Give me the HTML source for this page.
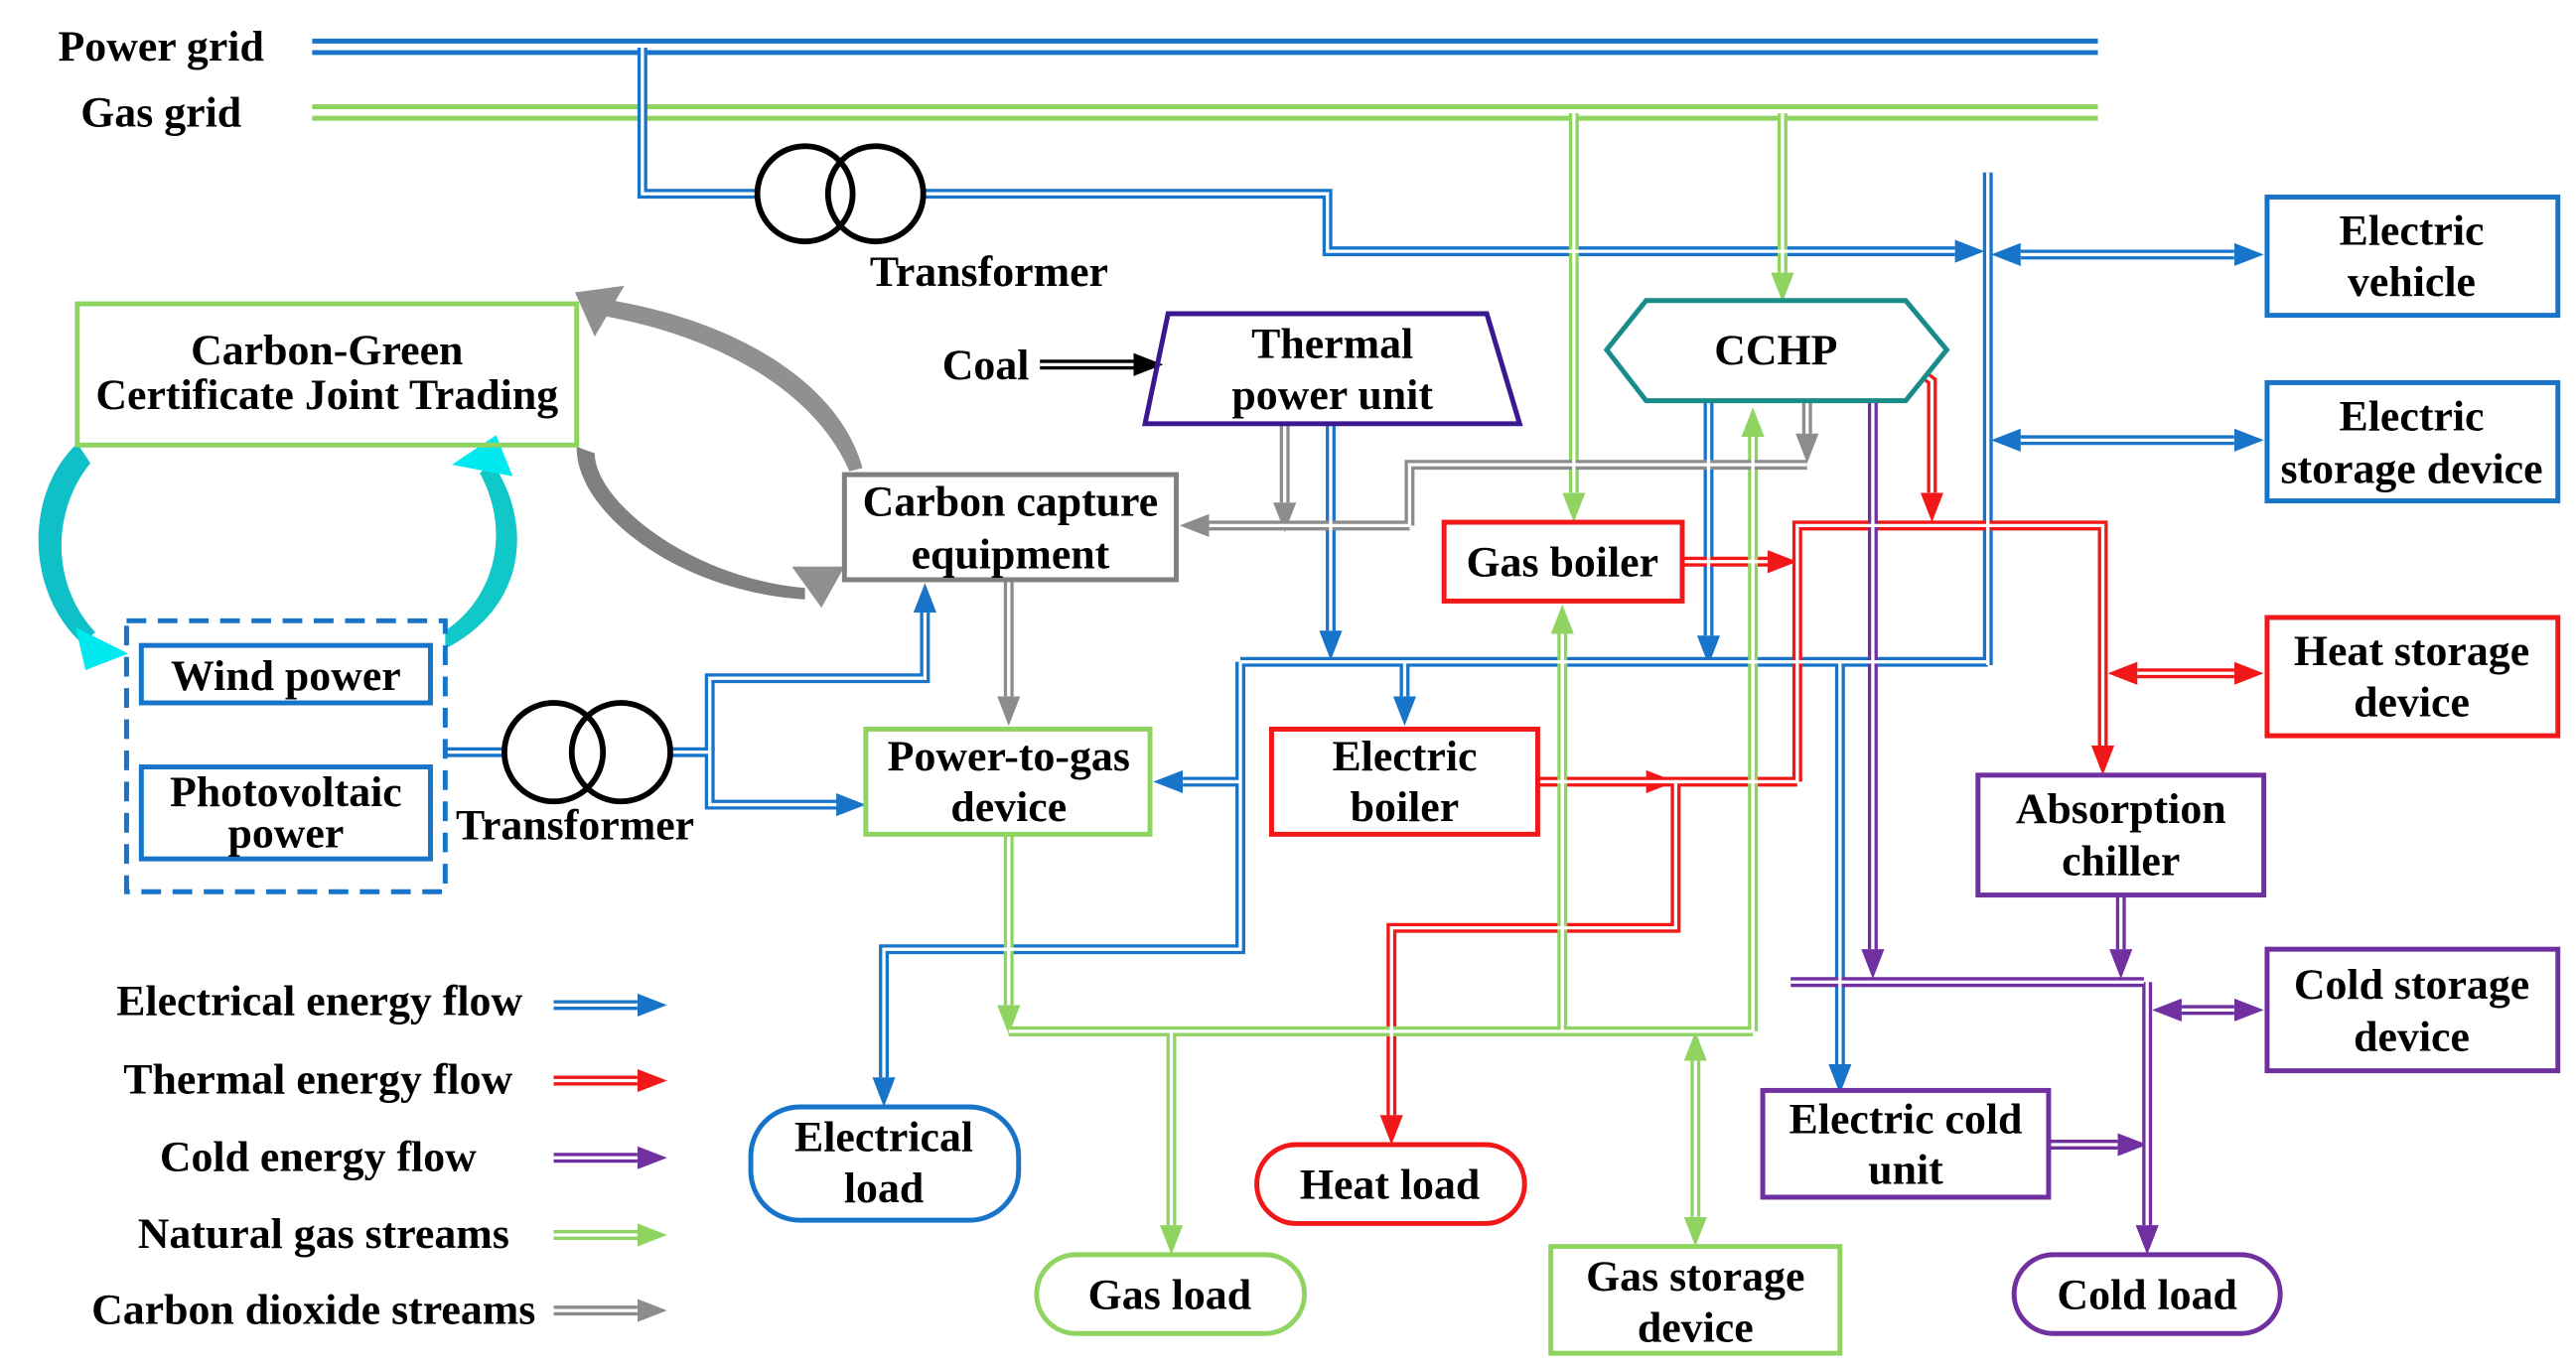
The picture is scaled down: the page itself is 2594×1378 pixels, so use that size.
<!DOCTYPE html>
<html><head><meta charset="utf-8"><style>
html,body{margin:0;padding:0;background:#fff}
svg{display:block}
text{font-family:"Liberation Serif",serif;font-weight:bold;font-size:26.5px;fill:#000}
.b{fill:none;stroke:#1874c8;stroke-width:6}
.r{fill:none;stroke:#f01818;stroke-width:6}
.p{fill:none;stroke:#7030a0;stroke-width:6}
.g{fill:none;stroke:#8fd460;stroke-width:6}
.y{fill:none;stroke:#8c8c8c;stroke-width:6}
.k{fill:none;stroke:#000;stroke-width:6}
.w{fill:none;stroke:#fff;stroke-width:2;marker-start:none!important;marker-end:none!important}
</style></head><body>
<svg width="2594" height="1378" viewBox="0 0 1568 833" xmlns="http://www.w3.org/2000/svg">
<defs>
<marker id="mb" markerUnits="userSpaceOnUse" markerWidth="18" markerHeight="14" refX="0" refY="7" orient="auto-start-reverse"><path d="M0,0 L18,7 L0,14z" fill="#1874c8"/></marker>
<marker id="mr" markerUnits="userSpaceOnUse" markerWidth="18" markerHeight="14" refX="0" refY="7" orient="auto-start-reverse"><path d="M0,0 L18,7 L0,14z" fill="#f01818"/></marker>
<marker id="mp" markerUnits="userSpaceOnUse" markerWidth="18" markerHeight="14" refX="0" refY="7" orient="auto-start-reverse"><path d="M0,0 L18,7 L0,14z" fill="#7030a0"/></marker>
<marker id="mg" markerUnits="userSpaceOnUse" markerWidth="18" markerHeight="14" refX="0" refY="7" orient="auto-start-reverse"><path d="M0,0 L18,7 L0,14z" fill="#8fd460"/></marker>
<marker id="my" markerUnits="userSpaceOnUse" markerWidth="18" markerHeight="14" refX="0" refY="7" orient="auto-start-reverse"><path d="M0,0 L18,7 L0,14z" fill="#8c8c8c"/></marker>
<marker id="mk" markerUnits="userSpaceOnUse" markerWidth="18" markerHeight="14" refX="0" refY="7" orient="auto-start-reverse"><path d="M0,0 L18,7 L0,14z" fill="#000"/></marker>

<path id="b1" d="M391,29 V118 H462"/>
<path id="b2" d="M562,118 H808 V153 H1190"/>
<path id="b3" d="M1210,105 V405"/>
<path id="b4" d="M1230,155 H1360"/>
<path id="b5" d="M1230,268 H1360"/>
<path id="b6" d="M810,258 V384"/>
<path id="b7" d="M755,403 H1210"/>
<path id="b8" d="M855,403 V424"/>
<path id="b9" d="M1040,244 V387"/>
<path id="b10" d="M1120,403 V648"/>
<path id="b11" d="M755,403 V578 H538 V656"/>
<path id="b12" d="M755,476 H720"/>
<path id="b13" d="M271,458 H308"/>
<path id="b14" d="M408,458 H432 V490 H509"/>
<path id="b15" d="M432,458 V413 H563 V373"/>
<path id="b16" d="M337,612 H388"/>
<path id="r1" d="M1024,342 H1076"/>
<path id="r2" d="M1094,476 V320 H1280 V454"/>
<path id="r3" d="M1160,220 L1176,232 V300"/>
<path id="r4" d="M936,476 H1002"/>
<path id="r5" d="M1002,476 H1094"/>
<path id="r6" d="M1020,476 V565 H847 V679"/>
<path id="r7" d="M1301,410 H1360"/>
<path id="r8" d="M337,658 H388"/>
<path id="p1" d="M1140,244 V578"/>
<path id="p2" d="M1090,598 H1305"/>
<path id="p3" d="M1291,545 V578"/>
<path id="p4" d="M1307,598 V746"/>
<path id="p5" d="M1247,697 H1289"/>
<path id="p6" d="M1328,615 H1360"/>
<path id="p7" d="M337,705 H388"/>
<path id="g1" d="M958,69 V300"/>
<path id="g2" d="M1085,69 V166"/>
<path id="g3" d="M614,508 V612"/>
<path id="g4" d="M614,628 H1067"/>
<path id="g5" d="M1067,628 V266"/>
<path id="g6" d="M951,628 V386"/>
<path id="g7" d="M713,628 V746"/>
<path id="g8" d="M1032,646 V741"/>
<path id="g9" d="M337,752 H388"/>
<path id="y1" d="M614,353 V424"/>
<path id="y2" d="M782,258 V306"/>
<path id="y3" d="M858,320 H736"/>
<path id="y4" d="M1100,244 V264"/>
<path id="y5" d="M1100,283 H858 V320"/>
<path id="y6" d="M337,798 H388"/>
<path id="k1" d="M633,222 H690"/>
</defs>

<path d="M190,25 H1277 M190,32 H1277" stroke="#1874c8" stroke-width="3"/>
<path d="M190,65 H1277 M190,72 H1277" stroke="#8fd460" stroke-width="3"/>
<text x="98" y="37" text-anchor="middle">Power grid</text>
<text x="98" y="77" text-anchor="middle">Gas grid</text>

<g class="b" marker-end="url(#mb)">
<use href="#b1" style="marker-end:none"/><use href="#b2"/><use href="#b3" style="marker-end:none"/>
<use href="#b4" style="marker-start:url(#mb)"/><use href="#b5" style="marker-start:url(#mb)"/>
<use href="#b6"/><use href="#b7" style="marker-end:none"/><use href="#b8"/><use href="#b9"/><use href="#b10"/><use href="#b11"/><use href="#b12"/>
<use href="#b13" style="marker-end:none"/><use href="#b14"/><use href="#b15"/><use href="#b16"/>
</g>
<g class="r" marker-end="url(#mr)">
<use href="#r1"/><use href="#r2"/><use href="#r3"/><use href="#r4"/><use href="#r5" style="marker-end:none"/><use href="#r6"/><use href="#r7" style="marker-start:url(#mr)"/><use href="#r8"/>
</g>
<g class="p" marker-end="url(#mp)">
<use href="#p1"/><use href="#p2" style="marker-end:none"/><use href="#p3"/><use href="#p4"/><use href="#p5"/><use href="#p6" style="marker-start:url(#mp)"/><use href="#p7"/>
</g>
<g class="g" marker-end="url(#mg)">
<use href="#g1"/><use href="#g2"/><use href="#g3"/><use href="#g4" style="marker-end:none"/><use href="#g5"/><use href="#g6"/><use href="#g7"/><use href="#g8" style="marker-start:url(#mg)"/><use href="#g9"/>
</g>
<g class="y" marker-end="url(#my)">
<use href="#y1"/><use href="#y2"/><use href="#y3"/><use href="#y4"/><use href="#y5" style="marker-end:none"/><use href="#y6"/>
</g>
<g class="k" marker-end="url(#mk)"><use href="#k1"/></g>

<g class="w">
<use href="#b1"/><use href="#b2"/><use href="#b3"/><use href="#b4"/><use href="#b5"/><use href="#b6"/><use href="#b7"/><use href="#b8"/><use href="#b9"/><use href="#b10"/><use href="#b11"/><use href="#b12"/><use href="#b13"/><use href="#b14"/><use href="#b15"/><use href="#b16"/>
<use href="#r1"/><use href="#r2"/><use href="#r3"/><use href="#r4"/><use href="#r5"/><use href="#r6"/><use href="#r7"/><use href="#r8"/>
<use href="#p1"/><use href="#p2"/><use href="#p3"/><use href="#p4"/><use href="#p5"/><use href="#p6"/><use href="#p7"/>
<use href="#g1"/><use href="#g2"/><use href="#g3"/><use href="#g4"/><use href="#g5"/><use href="#g6"/><use href="#g7"/><use href="#g8"/><use href="#g9"/>
<use href="#y1"/><use href="#y2"/><use href="#y3"/><use href="#y4"/><use href="#y5"/><use href="#y6"/><use href="#k1"/>
</g>

<g fill="none" stroke="#000" stroke-width="3.5">
<circle cx="490" cy="118" r="29"/><circle cx="533" cy="118" r="29"/>
<circle cx="337" cy="458" r="30"/><circle cx="378" cy="458" r="30"/>
</g>
<text x="602" y="174" text-anchor="middle">Transformer</text>
<text x="350" y="511" text-anchor="middle">Transformer</text>
<text x="600" y="231" text-anchor="middle">Coal</text>

<path d="M47,270 C15,300 15,360 50,392 L58,385 C30,355 32,310 55,282 Z" fill="#10c0c8"/>
<path d="M46,382 L78,398 L52,408 Z" fill="#00e8f0"/>
<path d="M271,395 C320,370 325,320 300,282 L292,288 C312,325 300,365 271,384 Z" fill="#10c8c8"/>
<path d="M275,283 L302,265 L312,290 Z" fill="#00e8f0"/>
<path d="M352,180 C440,190 510,230 525,285 L517,287 C497,240 440,205 365,192 Z" fill="#909090"/>
<path d="M350,178 L380,174 L362,205 Z" fill="#909090"/>
<path d="M351,272 C350,310 410,360 490,365 L490,358 C420,352 362,305 362,276 Z" fill="#808080"/>
<path d="M482,345 L514,345 L500,370 Z" fill="#909090"/>

<g fill="none" stroke-width="3">
<rect x="47" y="185" width="304" height="86" stroke="#8fd460"/>
<rect x="77" y="378" width="194" height="165" stroke="#1874c8" stroke-dasharray="12,7"/>
<rect x="86" y="393" width="176" height="35" stroke="#1874c8"/>
<rect x="86" y="467" width="176" height="56" stroke="#1874c8"/>
<rect x="514" y="289" width="202" height="64" stroke="#808080"/>
<polygon points="711,191 905,191 925,258 697,258" stroke="#3a1890"/>
<polygon points="978,213 1002,183 1160,183 1185,213 1160,244 1002,244" stroke="#188c88" fill="#fff"/>
<rect x="879" y="318" width="145" height="48" stroke="#f01818" fill="#fff"/>
<rect x="774" y="444" width="162" height="64" stroke="#f01818" fill="#fff"/>
<rect x="527" y="444" width="173" height="64" stroke="#8fd460" fill="#fff"/>
<rect x="1204" y="472" width="174" height="73" stroke="#7030a0" fill="#fff"/>
<rect x="1073" y="664" width="174" height="65" stroke="#7030a0" fill="#fff"/>
<rect x="1380" y="120" width="177" height="72" stroke="#1874c8"/>
<rect x="1380" y="233" width="177" height="72" stroke="#1874c8"/>
<rect x="1380" y="376" width="177" height="72" stroke="#f01818"/>
<rect x="1380" y="578" width="177" height="74" stroke="#7030a0"/>
<rect x="457" y="674" width="163" height="69" rx="30" stroke="#1874c8" fill="#fff"/>
<rect x="765" y="697" width="163" height="48" rx="24" stroke="#f01818" fill="#fff"/>
<rect x="631" y="764" width="163" height="48" rx="24" stroke="#8fd460" fill="#fff"/>
<rect x="944" y="759" width="176" height="65" stroke="#8fd460" fill="#fff"/>
<rect x="1226" y="764" width="162" height="48" rx="24" stroke="#7030a0" fill="#fff"/>
</g>

<g text-anchor="middle">
<text x="199" y="222">Carbon-Green</text><text x="199" y="249">Certificate Joint Trading</text>
<text x="174" y="420">Wind power</text>
<text x="174" y="491">Photovoltaic</text><text x="174" y="516">power</text>
<text x="615" y="314">Carbon capture</text><text x="615" y="346">equipment</text>
<text x="811" y="218">Thermal</text><text x="811" y="249">power unit</text>
<text x="1081" y="222">CCHP</text>
<text x="951" y="351">Gas boiler</text>
<text x="855" y="469">Electric</text><text x="855" y="500">boiler</text>
<text x="614" y="469">Power-to-gas</text><text x="614" y="500">device</text>
<text x="1291" y="501">Absorption</text><text x="1291" y="533">chiller</text>
<text x="1160" y="690">Electric cold</text><text x="1160" y="721">unit</text>
<text x="1468" y="149">Electric</text><text x="1468" y="180">vehicle</text>
<text x="1468" y="262">Electric</text><text x="1468" y="294">storage device</text>
<text x="1468" y="405">Heat storage</text><text x="1468" y="436">device</text>
<text x="1468" y="608">Cold storage</text><text x="1468" y="640">device</text>
<text x="538" y="701">Electrical</text><text x="538" y="732">load</text>
<text x="846" y="730">Heat load</text>
<text x="712" y="797">Gas load</text>
<text x="1032" y="786">Gas storage</text><text x="1032" y="817">device</text>
<text x="1307" y="797">Cold load</text>
</g>
<g text-anchor="end">
<text x="318" y="618">Electrical energy flow</text>
<text x="312" y="666">Thermal energy flow</text>
<text x="290" y="713">Cold energy flow</text>
<text x="310" y="760">Natural gas streams</text>
<text x="326" y="806">Carbon dioxide streams</text>
</g>
</svg>
</body></html>
